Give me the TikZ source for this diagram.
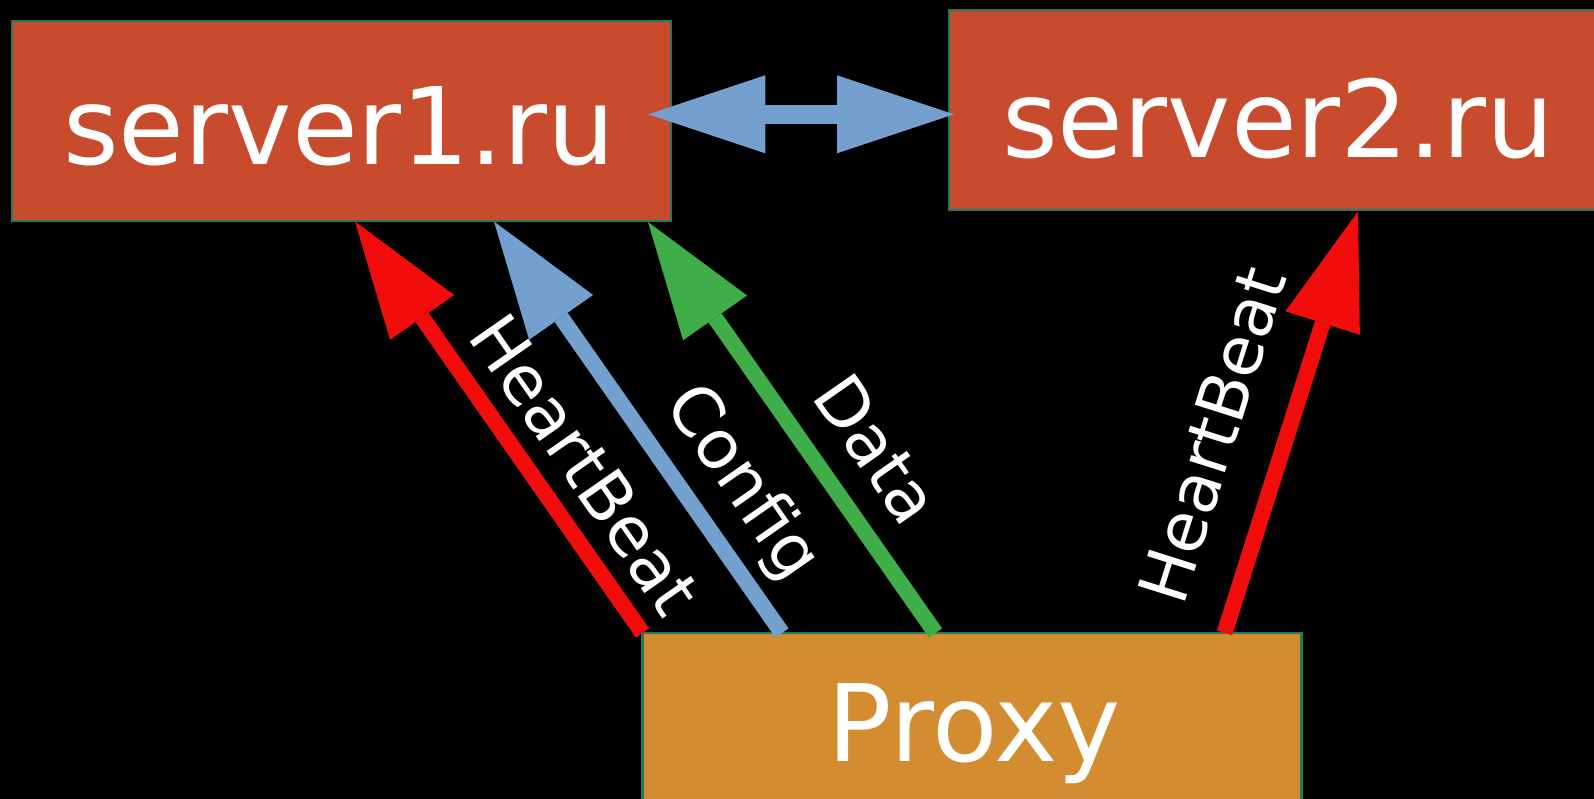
\documentclass[tikz,border=0pt]{standalone}
\usepackage{fontspec}
\setmainfont{DejaVu Sans}
\usetikzlibrary{arrows.meta,calc}
\definecolor{srv}{HTML}{C84B2E}
\definecolor{prx}{HTML}{D48C30}
\definecolor{edgecol}{HTML}{1F7A60}
\definecolor{ablue}{HTML}{74A0D0}
\definecolor{agreen}{HTML}{40AE48}
\definecolor{ared}{HTML}{F10D0C}
\begin{document}
\begin{tikzpicture}[x=1pt,y=-1pt,
  box/.style={draw=edgecol, line width=2.5pt, inner sep=0pt, outer sep=0pt,
              minimum width=659pt, minimum height=200pt},
  big/.style={text=white, font=\fontsize{107}{120}\selectfont, inner sep=0pt, anchor=base},
  lab/.style={text=white, font=\fontsize{68}{80}\selectfont, inner sep=0pt,
              text height=49.6pt, text depth=0pt, anchor=center},
  tipshape/.tip={Triangle[length=117pt,width=78pt,line width=0pt]},
  arr/.style={line width=16pt, -{tipshape}},
]
\fill[black] (0,0) rectangle (1594,799);
\useasboundingbox (0,0) rectangle (1594,799);

% boxes
\node[box, fill=srv] (s1) at (341.5,121) {};
\node[box, fill=srv] (s2) at (1278.5,110) {};
\node[box, fill=prx] (px) at (972,733) {};

% box texts
\node[big] (t1) at (339.5,165) {server1.ru};
\node[big] (t2) at (1278.5,157.6) {server2.ru};
\node[big] (t3) at (974.4,761) {Proxy};

% connector end points
\coordinate (h1)  at ($(s1.south west)+(343,0.5)$);
\coordinate (c1)  at ($(s1.south west)+(482,0.5)$);
\coordinate (g1)  at ($(s1.south west)+(636,1)$);
\coordinate (h2)  at ($(s2.south west)+(409,1.5)$);
\coordinate (h1t) at ($(px.north west)+(0,0)$);
\coordinate (c1t) at ($(px.north west)+(139.5,0)$);
\coordinate (g1t) at ($(px.north west)+(293,0)$);
\coordinate (h2t) at ($(px.north west)+(582,0)$);
\coordinate (dl)  at ($(s1.north east)+(-22.7,93.3)$);
\coordinate (dr)  at ($(s2.north west)+(5,104.3)$);

% connectors
\draw[arr, ared]   (h1t) -- (h1);
\draw[arr, ablue]  (c1t) -- (c1);
\draw[arr, agreen] (g1t) -- (g1);
\draw[arr, ared]   (h2t) -- (h2);
\draw[ablue, line width=19pt, {tipshape}-{tipshape}] (dl) -- (dr);

% labels
\node[lab, rotate=-55.15] (l1) at (585.5,464) {HeartBeat};
\node[lab, rotate=-55.15] (l2) at (746,480) {Config};
\node[lab, rotate=-55.15] (l3) at (877.4,449) {Data};
\node[lab, rotate=72.47]  (l4) at (1211.8,434.8) {HeartBeat};
\end{tikzpicture}
\end{document}
